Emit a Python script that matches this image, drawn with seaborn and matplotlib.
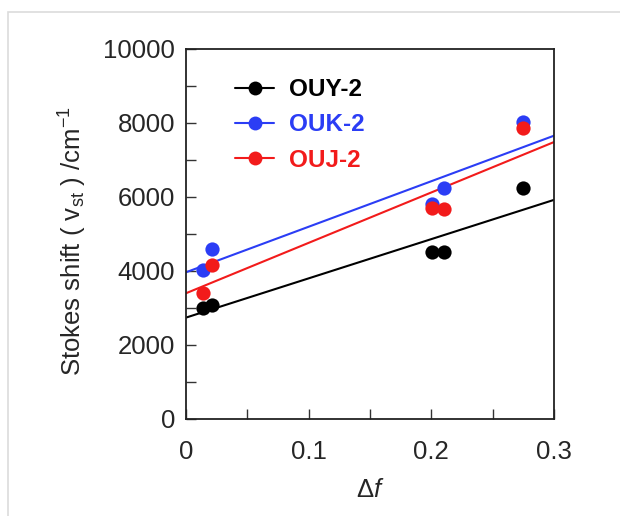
import numpy as np
import pandas as pd
import seaborn as sns
import matplotlib
matplotlib.use("Agg")
import matplotlib.pyplot as plt
from matplotlib.lines import Line2D
from matplotlib.patches import Rectangle

# Solvent polarity parameter and Stokes shifts for the three compounds
delta_f = [0.0136, 0.0215, 0.2003, 0.2106, 0.275]
shift_ouy2 = [2990, 3080, 4515, 4515, 6250]
shift_ouk2 = [4030, 4600, 5800, 6250, 8020]
shift_ouj2 = [3395, 4160, 5710, 5675, 7875]
series_names = ["OUY-2", "OUK-2", "OUJ-2"]
series_colors = ["#000000", "#2b3df5", "#f21b1b"]
x_ticks = [0, 0.1, 0.2, 0.3]
y_ticks = [0, 2000, 4000, 6000, 8000, 10000]

df = pd.DataFrame({
    "delta_f": delta_f * 3,
    "shift": shift_ouy2 + shift_ouk2 + shift_ouj2,
    "compound": [n for n in series_names for _ in delta_f],
})

sns.set_style("ticks")
plt.rcParams["font.family"] = ["Liberation Sans", "DejaVu Sans"]
plt.rcParams["mathtext.fontset"] = "custom"
plt.rcParams["mathtext.rm"] = "Liberation Sans"
plt.rcParams["mathtext.it"] = "Liberation Sans:italic"

fig = plt.figure(figsize=(6.2, 5.16), dpi=100)
ax = fig.add_axes([186 / 620, 1 - 419 / 516, 368 / 620, 370 / 516])
ax.set_xlim(0, 0.3)
ax.set_ylim(0, 10000)

for name, color in zip(series_names, series_colors):
    sub = df[df["compound"] == name]
    sns.regplot(data=sub, x="delta_f", y="shift", ax=ax, ci=None, truncate=False,
                color=color,
                scatter_kws={"s": 105, "alpha": 1, "linewidths": 0, "zorder": 3},
                line_kws={"lw": 1.5, "zorder": 2})

ax.set_xlim(0, 0.3)
ax.set_ylim(0, 10000)
ax.set_xticks(x_ticks)
ax.set_xticklabels(["0", "0.1", "0.2", "0.3"])
ax.set_xticks(np.arange(0, 0.3001, 0.05), minor=True)
ax.set_yticks(y_ticks)
ax.set_yticks(np.arange(0, 10001, 1000), minor=True)

ax.tick_params(axis="both", which="both", direction="in", length=7, width=1,
               color="#333333", top=False, right=False, labelsize=18.5)
ax.tick_params(axis="x", which="major", pad=15)
ax.tick_params(axis="y", which="major", pad=8)
for side in ["left", "bottom", "right", "top"]:
    ax.spines[side].set_visible(True)
    ax.spines[side].set_color("#222222")
    ax.spines[side].set_linewidth(1.3)

ax.set_xlabel(r"$\Delta\it{f}$", fontsize=18.5, labelpad=10)
ax.set_ylabel(r"Stokes shift ( v$_{\rm st}$ ) /cm$^{-1}$", fontsize=18.5, labelpad=10)
ax.yaxis.label.set_y(0.48)

handles = [Line2D([0], [0], color=c, lw=1.5, marker="o", markersize=10,
                  markeredgewidth=0) for c in series_colors]
leg = ax.legend(handles, series_names, loc="upper left", bbox_to_anchor=(0.074, 0.98),
                frameon=False, handlelength=1.6, handletextpad=0.62, labelspacing=0.5,
                prop={"size": 17.5, "weight": "bold"})
for txt, c in zip(leg.get_texts(), series_colors):
    txt.set_color(c)

# light outer frame
fig.add_artist(Rectangle((8 / 620, -0.1), 2.0, 1 - 12 / 516 + 0.1,
                         transform=fig.transFigure, fill=False,
                         edgecolor="#dcdcdc", lw=1.2))

fig.savefig("out.png", dpi=100)
